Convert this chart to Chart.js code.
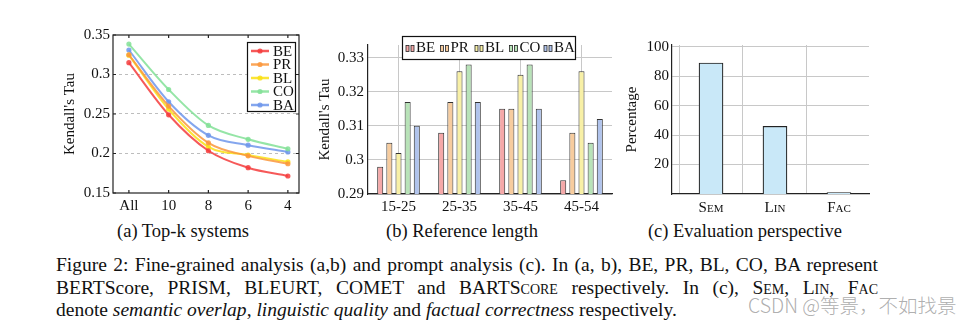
<!DOCTYPE html>
<html>
<head>
<meta charset="utf-8">
<script src="https://cdn.jsdelivr.net/npm/chart.js@4.4.1/dist/chart.umd.min.js"></script>
<style>
  body { margin: 0; background: #fff; width: 976px; height: 325px; position: relative; overflow: hidden; font-family: 'Liberation Serif', serif; color: #111; }
  .box { position: absolute; }
  .sub { position: absolute; font-size: 18.5px; line-height: 1; white-space: nowrap; transform: translate(-50%, -50%); }
  .cap { position: absolute; left: 56px; top: 254px; width: 822px; font-size: 19.5px; line-height: 22.5px; }
  .cap div { text-align: justify; text-align-last: justify; white-space: nowrap; }
  .cap div.last { text-align-last: left; }
  .sc { font-variant: small-caps; }
  .wm { position: absolute; left: 748px; top: 292px; font-family: 'Noto Sans CJK SC', sans-serif; font-weight: 300; font-size: 19.5px; line-height: 26px; color: rgba(165,165,165,0.9); white-space: nowrap; }
</style>
</head>
<body>
<div class="box" style="left:40px;top:20px;width:270px;height:200px"><canvas id="topk"></canvas></div>
<div class="box" style="left:315px;top:20px;width:300px;height:200px"><canvas id="reflen"></canvas></div>
<div class="box" style="left:615px;top:20px;width:260px;height:200px"><canvas id="persp"></canvas></div>

<div class="sub" style="left:183px;top:231px">(a) Top-k systems</div>
<div class="sub" style="left:462px;top:231px">(b) Reference length</div>
<div class="sub" style="left:745px;top:231px">(c) Evaluation perspective</div>

<div class="cap">
  <div>Figure 2: Fine-grained analysis (a,b) and prompt analysis (c). In (a, b), BE, PR, BL, CO, BA represent</div>
  <div>BERTScore, PRISM, BLEURT, COMET and BART<span class="sc">Score</span> respectively. In (c), <span class="sc">Sem</span>, <span class="sc">Lin</span>, <span class="sc">Fac</span></div>
  <div class="last">denote <i>semantic overlap</i>, <i>linguistic quality</i> and <i>factual correctness</i> respectively.</div>
</div>
<div class="wm">CSDN @等景，不如找景</div>

<script>
// series names
const metricNames = ['BE', 'PR', 'BL', 'CO', 'BA'];

// (a) top-k systems
const topkLabels = ['All', '10', '8', '6', '4'];
const beTopk = [0.315, 0.249, 0.2035, 0.182, 0.1715];
const prTopk = [0.325, 0.260, 0.2135, 0.197, 0.187];
const blTopk = [0.3245, 0.256, 0.2085, 0.198, 0.1895];
const coTopk = [0.3385, 0.281, 0.2355, 0.218, 0.206];
const baTopk = [0.331, 0.2655, 0.223, 0.2105, 0.202];
const topkTicks = [0.15, 0.2, 0.25, 0.3, 0.35];

// (b) reference length
const lengthLabels = ['15-25', '25-35', '35-45', '45-54'];
const beLen = [0.298, 0.308, 0.315, 0.294];
const prLen = [0.305, 0.317, 0.315, 0.308];
const blLen = [0.302, 0.326, 0.325, 0.326];
const coLen = [0.317, 0.328, 0.328, 0.305];
const baLen = [0.310, 0.317, 0.315, 0.312];
const lenTicks = [0.29, 0.30, 0.31, 0.32, 0.33];

// (c) evaluation perspective
const perspLabels = ['Sem', 'Lin', 'Fac'];
const perspValues = [89, 46, 1];
const perspTicks = [20, 40, 60, 80, 100];

const lineColors = ['rgba(245,60,60,0.85)', 'rgba(250,150,60,0.85)', 'rgba(250,225,20,0.85)', 'rgba(130,225,150,0.85)', 'rgba(110,150,235,0.85)'];
const barColors = ['#f5a8a8', '#f7cc9e', '#f8f0a6', '#b8e3b8', '#b0c3ec'];

const serif = "'Liberation Serif', serif";
const f15 = { family: serif, size: 15 };
Chart.defaults.font.family = serif;
Chart.defaults.font.size = 15;
Chart.defaults.color = '#111';
Chart.defaults.animation = false;
Chart.defaults.plugins.legend.display = false;
Chart.defaults.plugins.tooltip.enabled = false;

// little legend boxes drawn in the plot, like the pgfplots ones
const boxLegend = {
  id: 'boxLegend',
  afterDraw(chart, args, opts) {
    const ctx = chart.ctx;
    const sets = chart.data.datasets;
    ctx.save();
    ctx.fillStyle = '#fff';
    ctx.fillRect(opts.x, opts.y, opts.w, opts.h);
    ctx.strokeStyle = '#111';
    ctx.lineWidth = 1.2;
    ctx.strokeRect(opts.x + 0.5, opts.y + 0.5, opts.w, opts.h);
    ctx.font = '15px ' + serif;
    ctx.textBaseline = 'middle';
    ctx.fillStyle = '#111';
    sets.forEach((ds, i) => {
      if (opts.vertical) {
        const cy = opts.y + 9 + i * 13.5;
        ctx.strokeStyle = ds.borderColor;
        ctx.lineWidth = 2.5;
        ctx.beginPath();
        ctx.moveTo(opts.x + 4, cy);
        ctx.lineTo(opts.x + 22, cy);
        ctx.stroke();
        ctx.fillStyle = ds.borderColor;
        ctx.beginPath();
        ctx.arc(opts.x + 13, cy, 2.6, 0, Math.PI * 2);
        ctx.fill();
        ctx.fillStyle = '#111';
        ctx.fillText(ds.label, opts.x + 26, cy + 1);
      } else {
        const x0 = opts.x + 4 + i * 34.5;
        const cy = opts.y + opts.h / 2 + 1;
        ctx.lineWidth = 0.8;
        ctx.strokeStyle = '#222';
        ctx.fillStyle = ds.backgroundColor;
        ctx.fillRect(x0, cy - 3, 3, 6);
        ctx.strokeRect(x0, cy - 3, 3, 6);
        ctx.fillRect(x0 + 5, cy - 3, 3, 6);
        ctx.strokeRect(x0 + 5, cy - 3, 3, 6);
        ctx.fillStyle = '#111';
        ctx.fillText(ds.label, x0 + 10, cy);
      }
    });
    ctx.restore();
  }
};

// closed box with short inner ticks, pgfplots style
const frame = {
  id: 'frame',
  afterDatasetsDraw(chart) {
    const a = chart.chartArea, ctx = chart.ctx;
    ctx.save();
    ctx.strokeStyle = '#222';
    ctx.lineWidth = 1.2;
    ctx.strokeRect(a.left, a.top, a.right - a.left, a.bottom - a.top);
    ctx.beginPath();
    chart.scales.y.ticks.forEach(t => {
      const py = chart.scales.y.getPixelForValue(t.value);
      ctx.moveTo(a.left, py); ctx.lineTo(a.left + 3, py);
      ctx.moveTo(a.right, py); ctx.lineTo(a.right - 3, py);
    });
    chart.scales.x.ticks.forEach(t => {
      const px = chart.scales.x.getPixelForValue(t.value);
      ctx.moveTo(px, a.bottom); ctx.lineTo(px, a.bottom - 3);
      ctx.moveTo(px, a.top); ctx.lineTo(px, a.top + 3);
    });
    ctx.stroke();
    ctx.restore();
  }
};

function drawCharts() {
  // (a)
  const topkSeries = [beTopk, prTopk, blTopk, coTopk, baTopk];
  new Chart(document.getElementById('topk'), {
    type: 'line',
    data: {
      datasets: topkSeries.map((s, i) => ({
        label: metricNames[i],
        data: s.map((v, j) => ({ x: j, y: v })),
        borderColor: lineColors[i],
        backgroundColor: lineColors[i],
        borderWidth: 2,
        pointRadius: 2.6,
        pointBorderWidth: 0,
        cubicInterpolationMode: 'monotone'
      }))
    },
    options: {
      responsive: true,
      maintainAspectRatio: false,
      layout: { padding: { left: 17, top: 15, right: 11, bottom: 0 } },
      scales: {
        x: {
          type: 'linear', min: -0.4, max: 4.28,
          afterBuildTicks: s => { s.ticks = topkLabels.map((_, i) => ({ value: i })); },
          afterFit: s => { s.height = 27; },
          ticks: { padding: 4, font: f15, callback: v => topkLabels[v] },
          grid: { display: false, drawTicks: false },
          border: { display: false }
        },
        y: {
          min: 0.15, max: 0.35,
          afterBuildTicks: s => { s.ticks = topkTicks.map(v => ({ value: v })); },
          afterFit: s => { s.width = 56; },
          ticks: { padding: 3, font: f15, callback: v => String(+v.toFixed(2)) },
          grid: { color: c => (c.tick.value > 0.16 && c.tick.value < 0.34) ? '#bdbdbd' : 'rgba(0,0,0,0)', drawTicks: false },
          border: { display: false, dash: [3, 3] },
          title: { display: true, text: "Kendall's Tau", padding: { top: 4, bottom: 0 }, font: f15 }
        }
      },
      plugins: { boxLegend: { x: 207, y: 22, w: 48, h: 69, vertical: true } }
    },
    plugins: [frame, boxLegend]
  });

  // (b)
  const lenSeries = [beLen, prLen, blLen, coLen, baLen];
  new Chart(document.getElementById('reflen'), {
    type: 'bar',
    data: {
      labels: lengthLabels,
      datasets: lenSeries.map((s, i) => ({
        label: metricNames[i],
        data: s,
        backgroundColor: barColors[i],
        borderColor: '#333',
        borderWidth: 1,
        barPercentage: 0.66,
        categoryPercentage: 0.75
      }))
    },
    options: {
      responsive: true,
      maintainAspectRatio: false,
      layout: { padding: { left: 0, top: 25, right: 3, bottom: 0 } },
      scales: {
        x: {
          afterFit: s => { s.height = 26; },
          ticks: { padding: 4, font: f15 },
          grid: { color: '#c8c8c8', drawTicks: false, offset: false },
          border: { color: '#222', width: 1.2 }
        },
        y: {
          min: 0.29, max: 0.3337,
          afterBuildTicks: s => { s.ticks = lenTicks.map(v => ({ value: v })); },
          afterFit: s => { s.width = 53; },
          ticks: { padding: 4, font: f15, callback: v => String(+v.toFixed(2)) },
          grid: { color: '#c8c8c8', drawTicks: false },
          border: { color: '#222', width: 1.2 },
          title: { display: true, text: "Kendall's Tau", padding: { top: 1, bottom: 0 }, font: f15 }
        }
      },
      plugins: { boxLegend: { x: 87, y: 16, w: 173, h: 23, vertical: false } }
    },
    plugins: [boxLegend]
  });

  // (c)
  new Chart(document.getElementById('persp'), {
    type: 'bar',
    data: {
      datasets: [{
        label: 'Percentage',
        data: perspValues.map((v, i) => ({ x: i, y: v })),
        backgroundColor: '#c9e8f8',
        borderColor: '#222',
        borderWidth: 1.2,
        barThickness: 24
      }]
    },
    options: {
      responsive: true,
      maintainAspectRatio: false,
      layout: { padding: { left: 4, top: 25, right: 6, bottom: 0 } },
      scales: {
        x: {
          type: 'linear', min: -0.61, max: 2.47, offset: false,
          afterBuildTicks: s => { s.ticks = perspLabels.map((_, i) => ({ value: i })); },
          afterFit: s => { s.height = 26; },
          ticks: { padding: 5, callback: v => perspLabels[v], font: { family: serif, weight: 'small-caps', size: 15 } },
          grid: { color: '#c8c8c8', drawTicks: false },
          border: { color: '#222', width: 1.2 }
        },
        y: {
          min: 0, max: 101.2,
          afterBuildTicks: s => { s.ticks = perspTicks.map(v => ({ value: v })); },
          afterFit: s => { s.width = 53; },
          ticks: { padding: 3, font: f15 },
          grid: { color: '#c8c8c8', drawTicks: false },
          border: { color: '#222', width: 1.2 },
          title: { display: true, text: 'Percentage', padding: { top: 4, bottom: 0 }, font: f15 }
        }
      }
    }
  });
}

// canvas text needs the serif face ready before the first draw
Promise.all([
  document.fonts.load("15px 'Liberation Serif'"),
  document.fonts.load("small-caps 15px 'Liberation Serif'")
]).then(drawCharts, drawCharts);
</script>
</body>
</html>
